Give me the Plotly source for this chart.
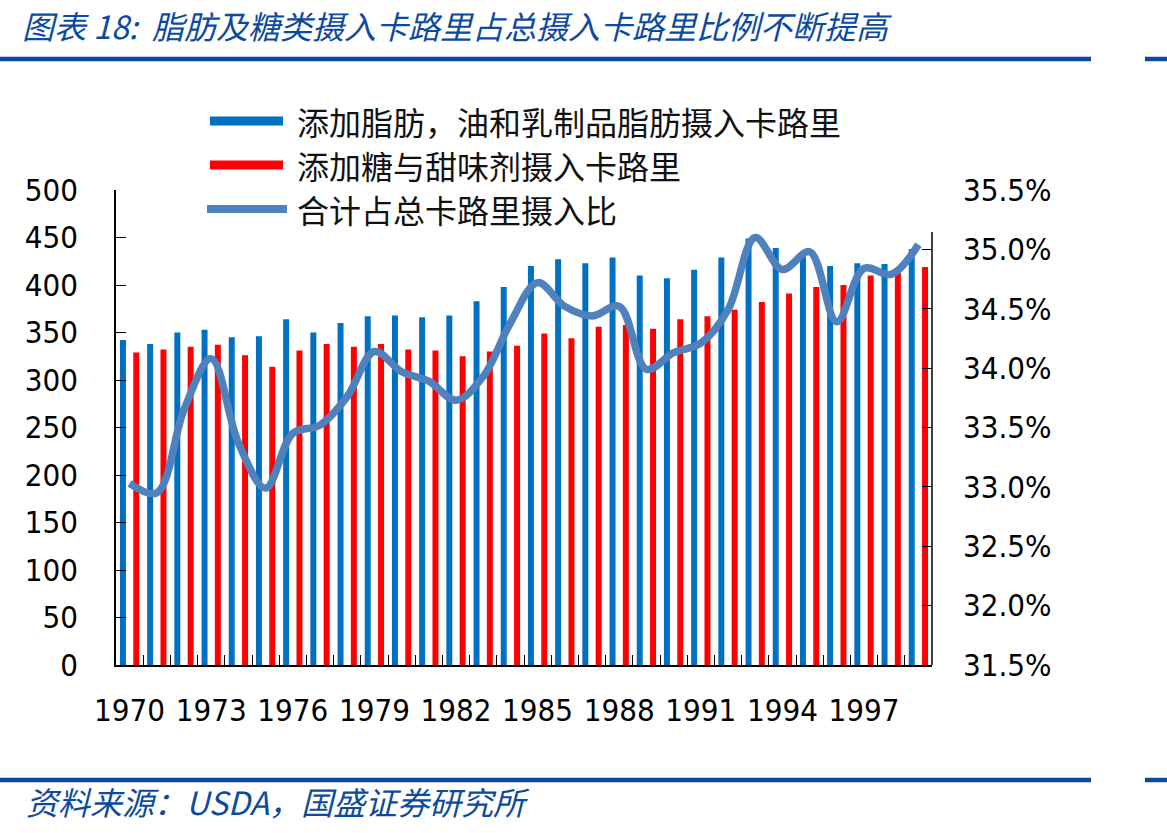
import plotly.graph_objects as go

# ---------------- data ----------------
years = [str(y) for y in range(1970, 2000)]
fat_kcal = [342, 338, 350, 353, 345, 346, 364, 350, 360, 367,
            368, 366, 368, 383, 398, 420, 427, 423, 429, 410,
            407, 416, 429, 449, 439, 432, 420, 423, 422, 438]
sugar_kcal = [329, 332, 335, 337, 326, 314, 331, 338, 335, 338,
              332, 331, 325, 330, 336, 349, 344, 356, 358, 354,
              364, 367, 374, 382, 391, 398, 400, 410, 413, 419]
share_pct = [33.03, 32.95, 33.65, 34.08, 33.37, 32.99, 33.45, 33.52, 33.76, 34.14,
             33.97, 33.89, 33.73, 33.93, 34.38, 34.72, 34.52, 34.44, 34.52, 33.99,
             34.13, 34.21, 34.49, 35.10, 34.83, 34.98, 34.39, 34.84, 34.79, 35.04]
x_tick_labels = [y if (int(y) - 1970) % 3 == 0 else "" for y in years]
left_ticks = [0, 50, 100, 150, 200, 250, 300, 350, 400, 450, 500]
right_ticks = [0.315, 0.320, 0.325, 0.330, 0.335, 0.340, 0.345, 0.350, 0.355]

name_fat = "添加脂肪，油和乳制品脂肪摄入卡路里"
name_sugar = "添加糖与甜味剂摄入卡路里"
name_share = "合计占总卡路里摄入比"
title_text = "图表 18:  脂肪及糖类摄入卡路里占总摄入卡路里比例不断提高"
source_text = "资料来源：USDA，国盛证券研究所"

# ---------------- layout geometry ----------------
W, H = 1167, 833
L, R, T, B = 116, 932, 190, 665


def px(xp):
    return (xp - L) / (R - L)


def py(yp):
    return (B - yp) / (B - T)


BLUE = "#0070C0"
RED = "#FF0000"
LINE = "#4F81BD"
HEAD = "#0B4A9E"
NUMFONT = "DejaVu Sans Condensed, Liberation Sans Narrow, DejaVu Sans, sans-serif"
CJK = "Noto Sans CJK SC, sans-serif"

fig = go.Figure()
fig.add_bar(x=years, y=fat_kcal, name=name_fat, marker_color=BLUE,
            marker_line_width=0, showlegend=False)
fig.add_bar(x=years, y=sugar_kcal, name=name_sugar, marker_color=RED,
            marker_line_width=0, showlegend=False)
fig.add_scatter(x=years, y=[v / 100 for v in share_pct], name=name_share, yaxis="y2",
                mode="lines", showlegend=False,
                line=dict(color=LINE, width=7.5, shape="spline", smoothing=1.0))

fig.update_layout(
    width=W, height=H,
    margin=dict(l=L, r=W - R, t=T, b=H - B, pad=0),
    paper_bgcolor="white", plot_bgcolor="white",
    barmode="group", bargap=0.02, bargroupgap=0.55,
    showlegend=False,
    xaxis=dict(type="category", tickmode="array", tickvals=years, ticktext=x_tick_labels,
               tickson="boundaries", ticks="inside", ticklen=10, tickwidth=1.2,
               tickcolor="black", showline=True, linecolor="black", linewidth=1.5,
               showgrid=False, zeroline=False, ticklabelstandoff=17, tickangle=0,
               tickfont=dict(family=NUMFONT, size=31, color="black"),
               range=[-0.5, len(years) - 0.5]),
    yaxis=dict(range=[0, 500], tickmode="array", tickvals=left_ticks,
               ticks="inside", ticklen=10, tickwidth=1.2, tickcolor="black",
               showline=True, linecolor="black", linewidth=1.5, showgrid=False,
               zeroline=False, ticklabelstandoff=30,
               tickfont=dict(family=NUMFONT, size=31, color="black")),
    yaxis2=dict(range=[0.315, 0.355], overlaying="y", side="right", tickmode="array",
                tickvals=right_ticks, tickformat=".1%",
                ticks="inside", ticklen=10, tickwidth=1.2, tickcolor="black",
                showline=False, showgrid=False, zeroline=False, ticklabelstandoff=30,
                tickfont=dict(family=NUMFONT, size=31, color="black")),
)

shapes = []
# right axis line (starts below the top in the reference)
shapes.append(dict(type="line", xref="paper", yref="paper", x0=1, x1=1,
                   y0=0, y1=py(232), line=dict(color="black", width=1.5)))
# header / footer rules
for yy in (59, 780):
    shapes.append(dict(type="line", xref="paper", yref="paper", x0=px(0), x1=px(1091),
                       y0=py(yy), y1=py(yy), line=dict(color=HEAD, width=4.5)))
    shapes.append(dict(type="line", xref="paper", yref="paper", x0=px(1145), x1=px(1167),
                       y0=py(yy), y1=py(yy), line=dict(color=HEAD, width=4.5)))
# legend symbols
leg = [(name_fat, BLUE, 121, 9, 210, 283), (name_sugar, RED, 165, 9, 210, 283),
       (name_share, LINE, 209, 8, 207, 287)]
annotations = []
for txt, col, yy, wd, x0, x1 in leg:
    shapes.append(dict(type="line", xref="paper", yref="paper", x0=px(x0), x1=px(x1),
                       y0=py(yy), y1=py(yy), line=dict(color=col, width=wd)))
    annotations.append(dict(xref="paper", yref="paper", x=px(295), y=py(yy),
                            xanchor="left", yanchor="middle", showarrow=False, text=txt,
                            font=dict(family=CJK, size=32, color="#111111")))
annotations.append(dict(xref="paper", yref="paper", x=px(20), y=py(25),
                        xanchor="left", yanchor="middle", showarrow=False,
                        text="<i>" + title_text + "</i>",
                        font=dict(family=CJK, size=32, color=HEAD)))
annotations.append(dict(xref="paper", yref="paper", x=px(24), y=py(801),
                        xanchor="left", yanchor="middle", showarrow=False,
                        text="<i>" + source_text + "</i>",
                        font=dict(family=CJK, size=32, color=HEAD)))
fig.update_layout(shapes=shapes, annotations=annotations)

fig.write_html("out.html")
